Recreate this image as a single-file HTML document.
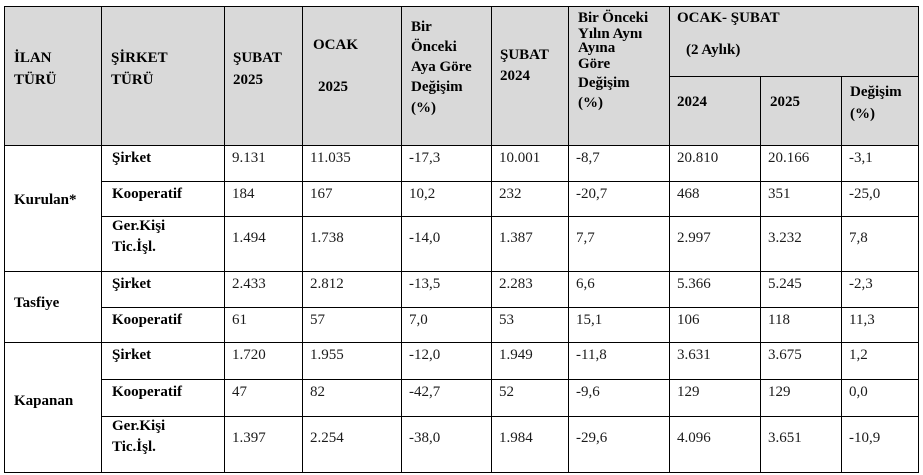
<!DOCTYPE html>
<html><head><meta charset="utf-8">
<style>
body{margin:0;width:923px;height:475px;background:#fff;position:relative;overflow:hidden;font-family:"Liberation Serif",serif;}
.l{position:absolute;background:#000;}
.t{position:absolute;font-size:15px;line-height:18px;white-space:nowrap;transform:translateY(-50%);color:#1a1a1a;}
.b{font-weight:bold;color:#000;}
.h{position:absolute;background:#d9d9d9;}
</style></head><body>
<div class="h" style="left:4px;top:6px;width:915px;height:139px"></div>
<div id="grid"></div>
<div id="txt"></div>
<script>
const colX=[4,101,224,302,401,491,568,669,760,841,918];
const rowY=[145,181,216,271,307,342,379,416,472];
const g=document.getElementById('grid');
function line(x,y,w,h){const d=document.createElement('div');d.className='l';d.style.left=x+'px';d.style.top=y+'px';d.style.width=w+'px';d.style.height=h+'px';


g.appendChild(d);}
// outer + horizontal
line(4,6,915,1);line(4,472,915,1);line(669,76,250,1);
[145,271,342].forEach(y=>line(4,y,915,1));
[181,216,307,379,416].forEach(y=>line(101,y,818,1));
colX.forEach((x,i)=>{ if(i===8||i===9) line(x,76,1,397); else line(x,6,1,467);});
const T=document.getElementById('txt');
function tx(s,x,y,bold,name){const d=document.createElement('div');d.className='t'+(bold?' b':'');d.style.left=x+'px';d.style.top=y+'px';d.textContent=s;


T.appendChild(d);}
// headers
[['İLAN',14,58],['TÜRÜ',14,80],['ŞİRKET',111,58],['TÜRÜ',111,80],['ŞUBAT',233,58],['2025',233,80],['OCAK',313,45],['2025',318,87],
['Bir',411,27],['Önceki',411,47],['Aya Göre',411,67],['Değişim',411,87],['(%)',411,108],
['ŞUBAT',500,55],['2024',500,76],
['Bir Önceki',578,18],['Yılın Aynı',578,34],['Ayına',578,48],['Göre',578,64],['Değişim',578,83],['(%)',578,103],
['OCAK- ŞUBAT',677,18],['(2 Aylık)',686,50],['2024',677,102],['2025',770,102],['Değişim',850,92],['(%)',850,114]
].forEach(a=>tx(a[0],a[1],a[2],true,'column-header'));
// group labels
tx('Kurulan*',14,200,true,'group-kurulan');
tx('Tasfiye',14,303,true,'group-tasfiye');
tx('Kapanan',14,401,true,'group-kapanan');
// rows
const rowLabels=[['Şirket'],['Kooperatif'],['Ger.Kişi','Tic.İşl.'],['Şirket'],['Kooperatif'],['Şirket'],['Kooperatif'],['Ger.Kişi','Tic.İşl.']];
const values=[
['9.131','11.035','-17,3','10.001','-8,7','20.810','20.166','-3,1'],
['184','167','10,2','232','-20,7','468','351','-25,0'],
['1.494','1.738','-14,0','1.387','7,7','2.997','3.232','7,8'],
['2.433','2.812','-13,5','2.283','6,6','5.366','5.245','-2,3'],
['61','57','7,0','53','15,1','106','118','11,3'],
['1.720','1.955','-12,0','1.949','-11,8','3.631','3.675','1,2'],
['47','82','-42,7','52','-9,6','129','129','0,0'],
['1.397','2.254','-38,0','1.984','-29,6','4.096','3.651','-10,9']];
rowLabels.forEach((lab,r)=>{
  const top=rowY[r];
  if(lab.length===2){tx(lab[0],112,top+10,true,'row-label');tx(lab[1],112,top+31,true,'row-label');}
  else tx(lab[0],112,top+13,true,'row-label');
  const vy= lab.length===2? top+22 : top+13;
  values[r].forEach((v,c)=>tx(v,colX[c+2]+8,vy,false,'cell-value'));
});
</script>
</body></html>
